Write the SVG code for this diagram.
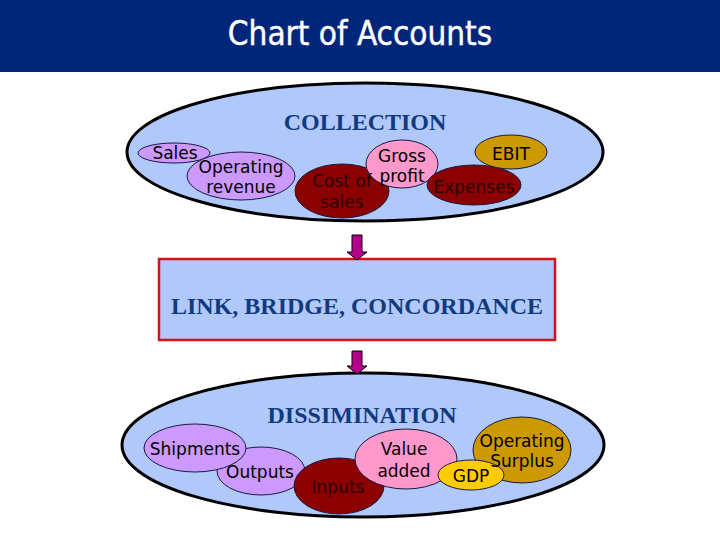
<svg xmlns="http://www.w3.org/2000/svg" width="720" height="540" viewBox="0 0 720 540">
<style>
.lav{fill:#cc99ff;stroke:#1a1a40;stroke-width:1}
.pink{fill:#ff99cc;stroke:#1a1a40;stroke-width:1}
.dred{fill:#8b0000;stroke:#1a1a40;stroke-width:1}
.gold{fill:#cc9900;stroke:#1a1a40;stroke-width:1}
.yel{fill:#ffcc00;stroke:#1a1a40;stroke-width:1}
.big{fill:#b0c8fa;stroke:#000;stroke-width:3}
.t{font-family:"DejaVu Sans",Verdana,sans-serif;font-size:17px;fill:#000;text-anchor:middle}
.td{font-family:"DejaVu Sans",Verdana,sans-serif;font-size:17px;fill:#2a0000;text-anchor:middle}
.h{font-family:"Liberation Serif","Times New Roman",serif;font-weight:bold;font-size:24px;fill:#123a7e;text-anchor:middle}
.arr{fill:#b5008a;stroke:#000;stroke-width:1}
</style>
<rect x="0" y="0" width="720" height="72" fill="#00267a"/>
<text x="360" y="45" font-family="'DejaVu Sans Condensed','DejaVu Sans',sans-serif" font-size="33" fill="#fff" stroke="#fff" stroke-width="0.4" text-anchor="middle">Chart of Accounts</text>

<g id="collection">
<ellipse class="big" cx="365" cy="152" rx="238" ry="69"/>
<text class="h" x="365" y="130">COLLECTION</text>
</g>
<g id="sales"><ellipse class="lav" cx="174" cy="153" rx="36" ry="10"/></g>
<g id="operating-revenue"><ellipse class="lav" cx="241" cy="176" rx="54" ry="24"/></g>
<g id="cost-of-sales"><ellipse class="dred" cx="342" cy="191" rx="47" ry="27"/></g>
<g id="gross-profit"><ellipse class="pink" cx="402" cy="164" rx="36" ry="24"/></g>
<g id="expenses"><ellipse class="dred" cx="474" cy="185" rx="47" ry="20"/></g>
<g id="ebit"><ellipse class="gold" cx="511" cy="152" rx="36" ry="17"/></g>
<g id="collection-labels">
<text class="t" x="175" y="159">Sales</text>
<text class="t" x="241" y="173">Operating</text>
<text class="t" x="241" y="193">revenue</text>
<text class="td" x="342" y="187">Cost of</text>
<text class="td" x="342" y="208">sales</text>
<text class="t" x="402" y="162">Gross</text>
<text class="t" x="402" y="182">profit</text>
<text class="td" x="474" y="193">Expenses</text>
<text class="t" x="511" y="160">EBIT</text>
</g>

<g id="link">
<rect x="159" y="259" width="396" height="81" fill="#b0c8fa" stroke="#d8101c" stroke-width="2.5"/>
<text class="h" x="357" y="314">LINK, BRIDGE, CONCORDANCE</text>
</g>

<g id="dissimination">
<ellipse class="big" cx="363" cy="445" rx="241" ry="72"/>
<text class="h" x="362" y="423">DISSIMINATION</text>
</g>
<g id="outputs"><ellipse class="lav" cx="261" cy="471" rx="44" ry="24"/></g>
<g id="shipments"><ellipse class="lav" cx="195" cy="448" rx="51" ry="24"/></g>
<g id="inputs"><ellipse class="dred" cx="339" cy="486" rx="45" ry="28"/></g>
<g id="value-added"><ellipse class="pink" cx="406" cy="459" rx="51" ry="30"/></g>
<g id="operating-surplus"><ellipse class="gold" cx="522" cy="450" rx="49" ry="33"/></g>
<g id="gdp"><ellipse class="yel" cx="471" cy="475" rx="33" ry="15"/></g>
<g id="dissimination-labels">
<text class="t" x="195" y="455">Shipments</text>
<text class="t" x="260" y="478">Outputs</text>
<text class="td" x="338" y="493">Inputs</text>
<text class="t" x="404" y="455">Value</text>
<text class="t" x="404" y="477">added</text>
<text class="t" x="522" y="447">Operating</text>
<text class="t" x="522" y="467">Surplus</text>
<text class="t" x="471" y="482">GDP</text>
</g>

<g id="connectors">
<path class="arr" d="M352,235 H362 V252 H367 L357,260 L347,252 H352 Z"/>
<path class="arr" d="M352,351 H362 V366 H367 L357,374 L347,366 H352 Z"/>
</g>
</svg>
